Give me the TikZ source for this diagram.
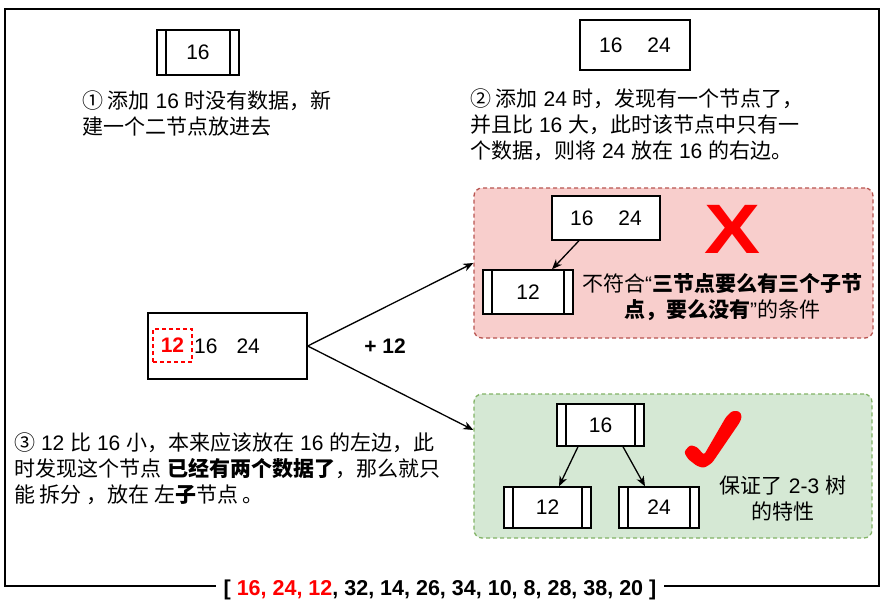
\documentclass[tikz,border=0pt]{standalone}
\usepackage{fontspec}
\usepackage{graphicx}
\setmainfont{Liberation Sans}
\newfontfamily\cjkfont{Noto Sans CJK SC}
\newcommand\zh[1]{{\cjkfont #1}}
\usetikzlibrary{arrows.meta}
\definecolor{pinkfill}{HTML}{F8CECC}
\definecolor{pinkline}{HTML}{B85450}
\definecolor{greenfill}{HTML}{D5E8D4}
\definecolor{greenline}{HTML}{82B366}
\definecolor{myred}{HTML}{FF0000}
\tikzset{
  box/.style={draw, line width=1.4pt, fill=white, inner sep=0pt, font=\fontsize{21}{25}\selectfont},
  proc/.style={box, path picture={
    \draw[line width=1.4pt] ([xshift=9pt]path picture bounding box.north west) -- ([xshift=9pt]path picture bounding box.south west);
    \draw[line width=1.4pt] ([xshift=-9pt]path picture bounding box.north east) -- ([xshift=-9pt]path picture bounding box.south east);}},
  txt/.style={align=left, anchor=north west, inner sep=0pt, font=\fontsize{21}{26}\selectfont},
  ctxt/.style={align=center, inner sep=0pt, font=\fontsize{21}{26}\selectfont},
  arr/.style={-{Stealth[length=10pt,width=8pt,inset=3pt]}, line width=1.3pt},
  region/.style={rounded corners=8pt, line width=1.3pt, dash pattern=on 4pt off 3pt, inner sep=0pt},
}
\begin{document}
\begin{tikzpicture}[x=1pt,y=-1pt]
\useasboundingbox (0,0) rectangle (886,602);
% frame
\node[draw, line width=2.5pt, minimum width=874pt, minimum height=577pt, inner sep=0pt] (frame) at (442,297.5) {};
\node[fill=white, inner xsep=8pt, inner ysep=2pt, font=\bfseries\fontsize{21.5}{24}\selectfont] (seq) at ([xshift=-2pt,yshift=-3pt]frame.south)
  {[ \textcolor{myred}{16, 24, 12}, 32, 14, 26, 34, 10, 8, 28, 38, 20 ]};

% step 1
\node[proc, minimum width=82pt, minimum height=45pt] (n1) at (198,52.5) {16};
\node[txt] (t1) at (82,91) {\zh{① 添加} 16 \zh{时没有数据，新}\\\zh{建一个二节点放进去}};

% step 2
\node[box, minimum width=110pt, minimum height=50pt] (n2) at (635,45) {16\hspace{25pt}24};
\node[txt] (t2) at (470,89) {\zh{② 添加} 24 \zh{时，发现有一个节点了，}\\\zh{并且比} 16 \zh{大，此时该节点中只有一}\\\zh{个数据，则将} 24 \zh{放在} 16 \zh{的右边。}};

% red region
\node[region, fill=pinkfill, draw=pinkline, minimum width=399pt, minimum height=150pt] (redbg) at (673.5,263) {};
\node[box, minimum width=108pt, minimum height=44pt] (r1) at (606,218) {16\hspace{25pt}24};
\node[proc, minimum width=90pt, minimum height=44pt] (r2) at (528,292) {12};
\draw[arr] ([xshift=-27pt]r1.south) -- ([xshift=24pt]r2.north);
\node[text=myred, inner sep=0pt, font=\bfseries\fontsize{70}{70}\selectfont] (cross) at (733,229) {\scalebox{1.2}[1]{X}};
\node[ctxt] (rt) at (722,297) {\zh{不符合}“\textbf{\zh{三节点要么有三个子节}}\\\textbf{\zh{点，要么没有}}”\zh{的条件}};

% middle
\node[box, minimum width=159pt, minimum height=66pt] (mid) at (227.5,346) {};
\node[draw=myred, dash pattern=on 4pt off 3pt, line width=1.2pt, text=myred, inner sep=0pt, minimum width=39pt, minimum height=33pt, font=\bfseries\fontsize{21}{25}\selectfont] (m12) at (172.5,345.5) {12};
\node[anchor=west, inner sep=0pt, font=\fontsize{21}{25}\selectfont] (m1624) at (194,346) {16\hspace{19pt}24};
\node[inner sep=0pt, font=\bfseries\fontsize{21}{25}\selectfont] (plus) at (385,346) {+ 12};

% green region
\node[region, fill=greenfill, draw=greenline, minimum width=398pt, minimum height=144pt] (greenbg) at (673,466) {};
\coordinate (gin) at ([yshift=36pt]greenbg.west);
\node[proc, minimum width=87pt, minimum height=42pt] (g1) at (600.5,425) {16};
\node[proc, minimum width=87pt, minimum height=41pt] (g2) at (547.5,507.5) {12};
\node[proc, minimum width=80pt, minimum height=41pt] (g3) at (659,507.5) {24};
\draw[arr] ([xshift=-22.5pt]g1.south) -- ([xshift=11.5pt]g2.north);
\draw[arr] ([xshift=22.5pt]g1.south) -- ([xshift=-14pt]g3.north);
\fill[myred, rounded corners=2.5pt] (684,452) -- (690,445) -- (697,447) -- (704,455) -- (726,417) -- (732,411) -- (739,411) -- (742,416) -- (740,422) -- (712,463) -- (704,468) -- (697,466) -- (688,459) -- cycle;
\node[ctxt] (gt) at (783,499) {\zh{保证了} 2-3 \zh{树}\\\zh{的特性}};

% main arrows
\draw[arr] (mid.east) -- (redbg.west);
\draw[arr] (mid.east) -- (gin);

% step 3
\node[txt] (t3) at (14,432) {\zh{③} 12 \zh{比} 16 \zh{小，本来应该放在} 16 \zh{的左边，此}\\\zh{时发现这个节点} \textbf{\zh{已经有两个数据了}}\zh{，那么就只}\\\zh{能 拆分 ，放在 左}\textbf{\zh{子}}\zh{节点 。}};
\end{tikzpicture}
\end{document}
